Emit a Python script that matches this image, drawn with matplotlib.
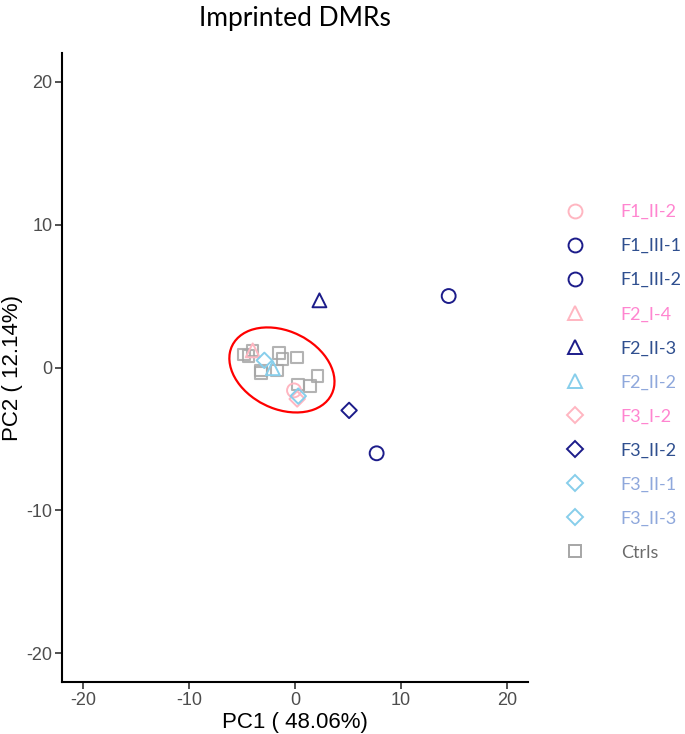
import numpy as np
import matplotlib.pyplot as plt
from matplotlib.lines import Line2D
from matplotlib.patches import Ellipse

plt.rcParams["axes.unicode_minus"] = False

# ---- data ----
samples = ["F1_II-2", "F1_III-1", "F1_III-2", "F2_I-4", "F2_II-3", "F2_II-2",
           "F3_I-2", "F3_II-2", "F3_II-1", "F3_II-3"]
pc1 = [-0.1, 14.5, 7.7, -4.0, 2.3, -2.1, 0.2, 5.1, -2.9, 0.3]
pc2 = [-1.6, 5.0, -6.0, 1.2, 4.7, -0.05, -2.2, -3.0, 0.5, -2.0]

ctrl_pc1 = [-4.8, -4.4, -4.0, -3.2, -3.2, -1.5, -1.2, -1.7, 0.2, 2.1, 1.4, 0.3]
ctrl_pc2 = [0.9, 0.8, 1.2, -0.2, -0.4, 1.0, 0.6, -0.2, 0.7, -0.6, -1.3, -1.2]

# 95% ellipse around the controls: centre, axes, angle (data units)
ell_center = (-1.24, -0.17)
ell_width, ell_height, ell_angle = 10.12, 5.61, -13.6

PINK, NAVY, SKY, GREY = "#FFB6C1", "#1C1C8A", "#87CEEB", "#A6A6A6"
marker_of = {"F1": "o", "F2": "^", "F3": "D"}
color_of = {"F1_II-2": PINK, "F2_I-4": PINK, "F3_I-2": PINK,
            "F1_III-1": NAVY, "F1_III-2": NAVY, "F2_II-3": NAVY, "F3_II-2": NAVY,
            "F2_II-2": SKY, "F3_II-1": SKY, "F3_II-3": SKY}
text_of = {PINK: "#FF85D0", NAVY: "#2F4F8F", SKY: "#8FA8DC", GREY: "#6B6B6B"}

fig = plt.figure(figsize=(6.85, 7.34), dpi=100)
ax = fig.add_axes([0.0905, 0.0708, 0.6805, 0.857])

ax.add_patch(Ellipse(ell_center, ell_width, ell_height, angle=ell_angle,
                     fill=False, edgecolor="red", lw=1.6, zorder=1))

ax.scatter(ctrl_pc1, ctrl_pc2, marker="s", s=70, facecolors="none",
           edgecolors=GREY, linewidths=1.5, alpha=0.85, zorder=2)

handles = []
for name, x, y in zip(samples, pc1, pc2):
    m = marker_of[name[:2]]
    c = color_of[name]
    sz = 62 if m == "D" else 100
    ax.scatter([x], [y], marker=m, s=sz, facecolors="none", edgecolors=c,
               linewidths=1.4, zorder=3)
    handles.append(Line2D([], [], ls="none", marker=m, mfc="none", mec=c,
                          mew=1.4, ms=8 if m == "D" else 10, label=name))
handles.append(Line2D([], [], ls="none", marker="s", mfc="none", mec=GREY,
                      mew=1.4, ms=8.5, label="Ctrls"))

ax.set_xlim(-22, 22)
ax.set_ylim(-22, 22)
ax.set_xticks([-20, -10, 0, 10, 20])
ax.set_yticks([-20, -10, 0, 10, 20])
for s in ["top", "right"]:
    ax.spines[s].set_visible(False)
for s in ["left", "bottom"]:
    ax.spines[s].set_linewidth(1.5)
ax.tick_params(length=5, width=1.2, color="#333333", labelcolor="#4D4D4D",
               labelsize=13, pad=2)
for lab in ax.get_xticklabels() + ax.get_yticklabels():
    lab.set_fontfamily("Liberation Sans")
ax.set_xlabel("PC1 ( 48.06%)", fontsize=16, family="Liberation Sans", labelpad=2)
ax.set_ylabel("PC2 ( 12.14%)", fontsize=16, family="Liberation Sans", labelpad=2)

fig.text(0.43, 0.992, "Imprinted DMRs", ha="center", va="top",
         fontsize=19, family="Lato")

leg = fig.legend(handles=handles, loc="upper left",
                 bbox_to_anchor=(0.802, 0.744), frameon=False,
                 prop={"family": "Lato", "size": 13},
                 handletextpad=2.05, labelspacing=1.0, handlelength=1.0)
for t, h in zip(leg.get_texts(), handles):
    t.set_color(text_of[h.get_markeredgecolor()])

fig.savefig("out.png", dpi=100, facecolor="white")
